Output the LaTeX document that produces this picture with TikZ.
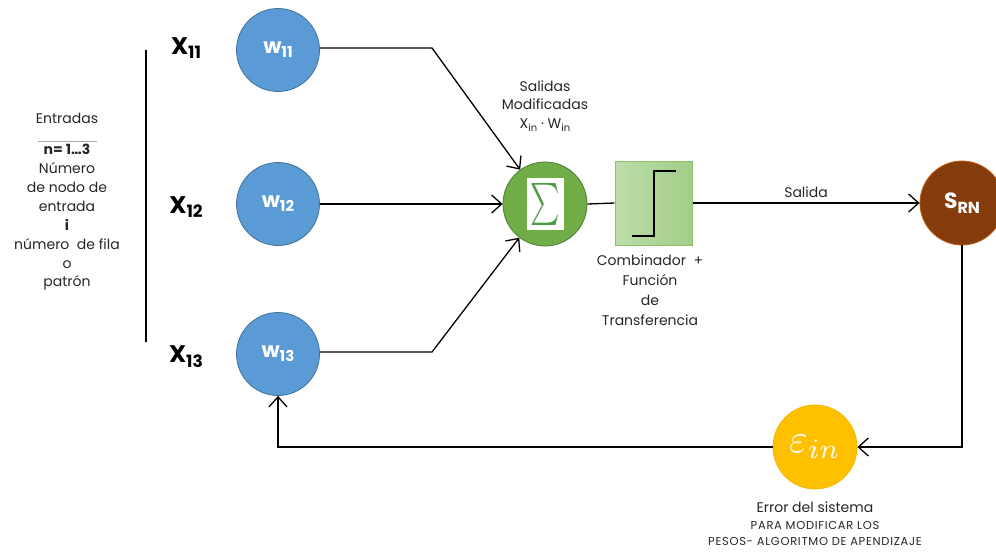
\documentclass[tikz,border=0pt]{standalone}
\usepackage{fontspec}
\setmainfont{Poppins}
\usetikzlibrary{arrows.meta,calc}
\definecolor{wblue}{HTML}{5B9BD5}
\definecolor{wborder}{HTML}{41719C}
\definecolor{sgreen}{HTML}{70AD47}
\definecolor{sborder}{HTML}{507E32}
\definecolor{boxl}{HTML}{BCDDA9}
\definecolor{boxr}{HTML}{A2CD88}
\definecolor{boxb}{HTML}{8CC26E}
\definecolor{sigc}{HTML}{4E9A45}
\definecolor{brown}{HTML}{843C0C}
\definecolor{brownb}{HTML}{C55A11}
\definecolor{yel}{HTML}{FFC000}
\definecolor{yelb}{HTML}{F2B600}
\definecolor{txt}{HTML}{262626}
\newcommand{\sbs}[2]{{\fontsize{#1}{#1}\selectfont\raisebox{-0.28em}{#2}}}
\begin{document}
\begin{tikzpicture}[x=1pt,y=-1pt,
  wnode/.style={circle, draw=wborder, fill=wblue, line width=0.8pt, minimum size=83pt, inner sep=0pt, text=white, font=\bfseries\fontsize{21}{21}\selectfont},
  xlab/.style={font=\bfseries\fontsize{24}{24}\selectfont, text=black},
  lbl/.style={font=\fontsize{14}{18.5}\selectfont, text=txt, align=center, inner sep=0pt},
  arr/.style={-{Straight Barb[length=10pt,width=18pt]}, line width=1.3pt},
  ln/.style={line width=1.3pt}]
\useasboundingbox (0,0) rectangle (996,552);
\clip (0,0) rectangle (996,552);

% input weight nodes
\node[wnode] (w1) at (278,50) {w\sbs{15}{11}};
\node[wnode] (w2) at (278,204) {w\sbs{15}{12}};
\node[wnode] (w3) at (278,354) {w\sbs{15}{13}};
\node[xlab] (x1) at (186,48) {X\sbs{17}{11}};
\node[xlab] (x2) at (186,207) {X\sbs{17}{12}};
\node[xlab] (x3) at (186,357) {X\sbs{17}{13}};

% sum node
\node[circle, draw=sborder, fill=sgreen, line width=0.8pt, minimum size=84pt, inner sep=0pt] (sum) at (545,204) {};
\node[fill=white, minimum width=37pt, minimum height=52pt, inner sep=0pt, text=sigc] (sig) at (sum.center) {\scalebox{2.8}[4.2]{$\sum$}};

% transfer function box
\node[draw=boxb, line width=1pt, left color=boxl, right color=boxr, minimum width=77pt, minimum height=84pt, inner sep=0pt] (tf) at (653.5,203) {};
\draw[line width=1.6pt] (632,236) -- (654,236) -- (654,171) -- (676,171);

% output node
\node[circle, draw=brownb, fill=brown, line width=0.8pt, minimum size=84pt, inner sep=0pt, text=white, font=\bfseries\fontsize{22}{22}\selectfont] (srn) at (962,203) {S\sbs{16}{RN}};

% error node
\node[circle, draw=yelb, fill=yel, line width=0.8pt, minimum size=84pt, inner sep=0pt, text=white] (eps) at (815,447) {\scalebox{4}{$\varepsilon_{in}$}};

% connectors
\coordinate (b1) at (432,48);
\coordinate (b3) at (432,352);
\draw[arr] (w1.east |- b1) -- (b1) -- (sum);
\draw[arr] (w3.east |- b3) -- (b3) -- (sum);
\draw[arr] (w2.east) -- (sum.west);
\draw[ln] (sum.east) -- (tf.west);
\draw[arr] (tf.east) -- (srn.west) node[midway, above=5pt, lbl] (sal) {Salida};
\draw[arr] (srn.south) |- (eps.east);
\draw[arr] (eps.west) -| (w3.south);

% left bracket line
\coordinate (vt) at (146,50);
\coordinate (vb) at (146,342);
\draw[line width=1.3pt] (vt) -- (vb);

% labels
\node[lbl] (ent) at (67,118) {Entradas};
\draw[line width=0.6pt, draw=gray!70] (38,141) -- (97,141);
\node[lbl, font=\fontsize{14}{18.9}\selectfont, anchor=north] (desc) at (67,144) {\textbf{n= 1…3}\\Número\\de nodo de\\entrada\\\textbf{i}\\número \ de fila\\o\\patrón};

\node[lbl] (smod) at (545,106) {Salidas\\Modificadas\\X\sbs{10}{in} · W\sbs{10}{in}};
\node[lbl, font=\fontsize{14}{20}\selectfont] (comb) at (650,290) {Combinador \ +\\Función\\de\\Transferencia};
\node[lbl, font=\fontsize{14}{16.5}\selectfont] (err) at (815,524) {Error del sistema\\{\fontsize{11.5}{16.5}\selectfont\addfontfeature{LetterSpace=6}PARA MODIFICAR LOS}\\{\fontsize{11.5}{16.5}\selectfont\addfontfeature{LetterSpace=6}PESOS- ALGORITMO DE APENDIZAJE}};
\end{tikzpicture}
\end{document}
